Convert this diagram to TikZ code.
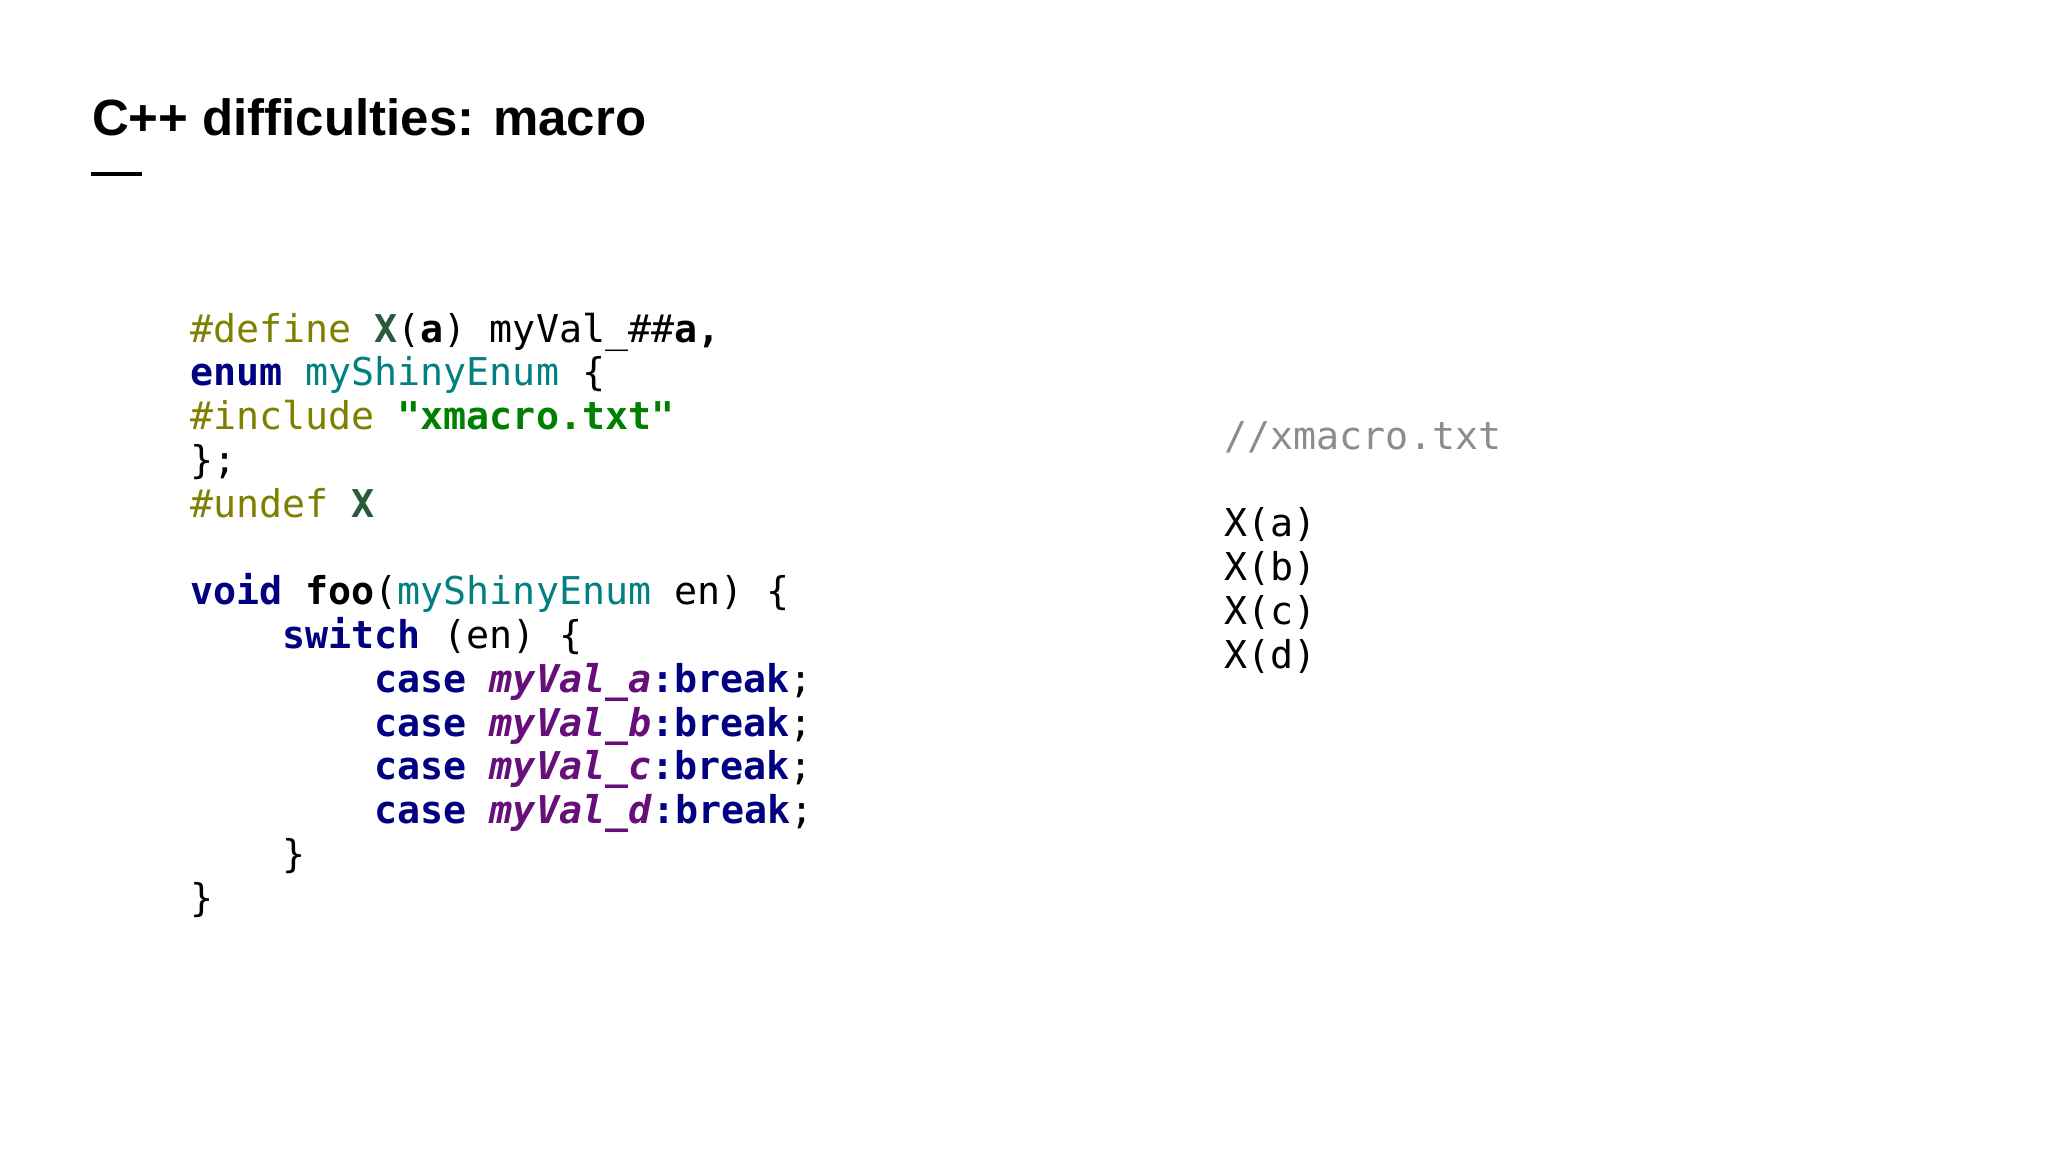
\documentclass[tikz,border=0pt]{standalone}
\usepackage{fontspec}
\setmainfont{Liberation Sans}
\setmonofont{DejaVu Sans Mono}
\definecolor{pp}{HTML}{808000}
\definecolor{mac}{HTML}{2A5A3A}
\definecolor{kw}{HTML}{000080}
\definecolor{ty}{HTML}{008080}
\definecolor{st}{HTML}{008000}
\definecolor{vl}{HTML}{660E7A}
\definecolor{cm}{HTML}{8C8C8C}
\tikzset{code/.style={anchor=base west,inner sep=0pt,font=\fontsize{10.9}{13}\ttfamily}}
\newcommand{\K}[1]{\textcolor{kw}{\textbf{#1}}}
\newcommand{\V}[1]{\textcolor{vl}{\textbf{\textit{#1}}}}
\begin{document}
\begin{tikzpicture}[x=0.01306cm,y=-0.01306cm]
\useasboundingbox[fill=white] (0,0) rectangle (1568,882);
\node[anchor=base west,inner sep=0pt,font=\fontsize{14.5}{17}\selectfont\bfseries] (title) at (70,104) {C++ difficulties: macro};
\draw[line width=1.1pt] (70,133) -- (109,133);
\node[code] (l0) at (145,262) {\textcolor{pp}{\#define} \textcolor{mac}{\textbf{X}}(\textbf{a}) myVal\_\#\#\textbf{a,}};
\node[code] (l1) at (145,295.5) {\K{enum} \textcolor{ty}{myShinyEnum} \{};
\node[code] (l2) at (145,329) {\textcolor{pp}{\#include} \textcolor{st}{\textbf{"xmacro.txt"}}};
\node[code] (l3) at (145,362.5) {\};};
\node[code] (l4) at (145,396) {\textcolor{pp}{\#undef} \textcolor{mac}{\textbf{X}}};
\node[code] (l6) at (145,463) {\K{void} \textbf{foo}(\textcolor{ty}{myShinyEnum} en) \{};
\node[code] (l7) at (145,496.5) {\phantom{xxxx}\K{switch} (en) \{};
\node[code] (l8) at (145,530) {\phantom{xxxxxxxx}\K{case} \V{myVal\_a}\K{:break};};
\node[code] (l9) at (145,563.5) {\phantom{xxxxxxxx}\K{case} \V{myVal\_b}\K{:break};};
\node[code] (l10) at (145,597) {\phantom{xxxxxxxx}\K{case} \V{myVal\_c}\K{:break};};
\node[code] (l11) at (145,630.5) {\phantom{xxxxxxxx}\K{case} \V{myVal\_d}\K{:break};};
\node[code] (l12) at (145,664) {\phantom{xxxx}\}};
\node[code] (l13) at (145,697.5) {\}};
\node[code,text=cm] (r0) at (937,344) {//xmacro.txt};
\node[code] (r1) at (937,411) {X(a)};
\node[code] (r2) at (937,444.5) {X(b)};
\node[code] (r3) at (937,478) {X(c)};
\node[code] (r4) at (937,511.5) {X(d)};
\end{tikzpicture}
\end{document}
